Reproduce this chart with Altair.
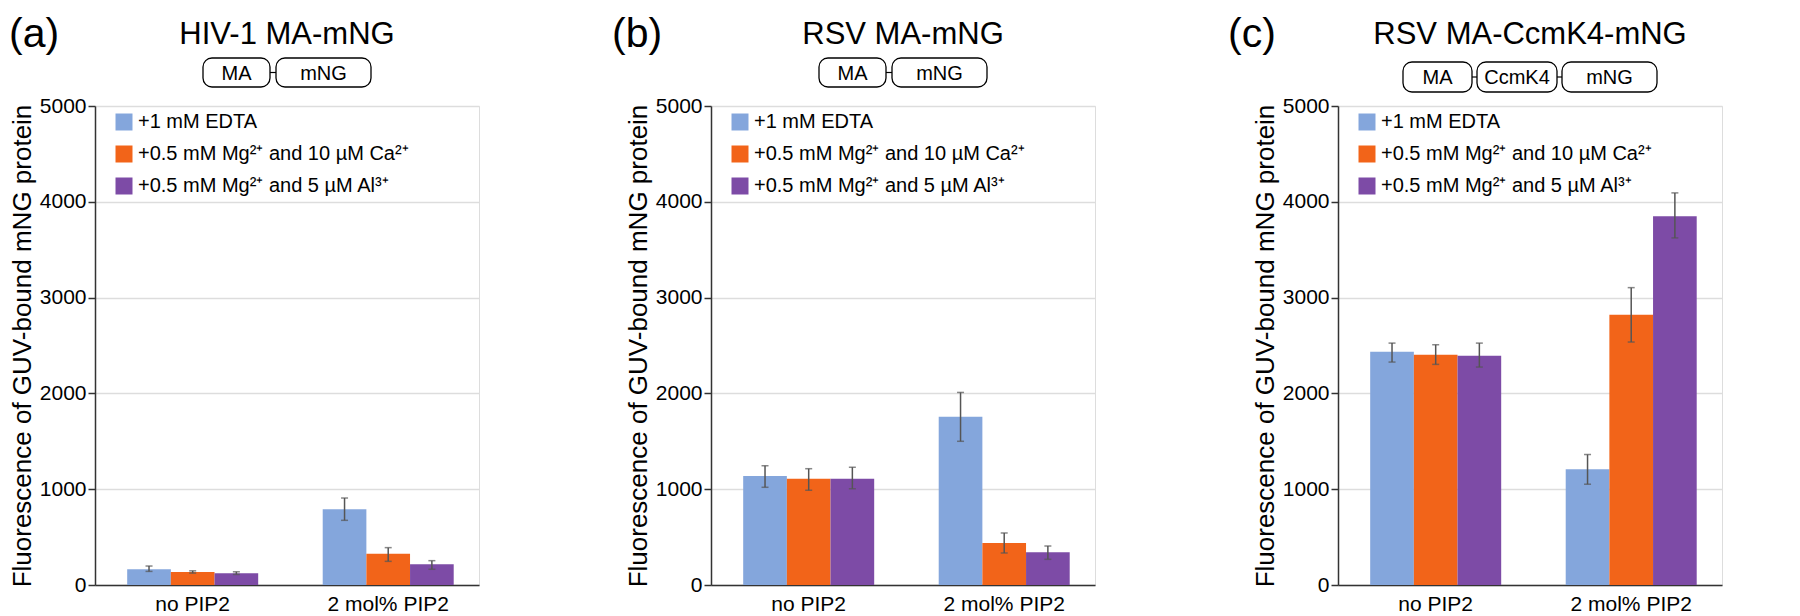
import altair as alt
import pandas as pd

FONT = "Liberation Sans"

categories = ["no PIP2", "2 mol% PIP2"]
conditions = ["+1 mM EDTA", "+0.5 mM Mg²⁺ and 10 µM Ca²⁺", "+0.5 mM Mg²⁺ and 5 µM Al³⁺"]
colors = ["#84a6dc", "#f26419", "#7d4ba6"]

titles = ["HIV-1 MA-mNG", "RSV MA-mNG", "RSV MA-CcmK4-mNG"]
panel_labels = ["(a)", "(b)", "(c)"]
y_title = "Fluorescence of GUV-bound mNG protein"
y_ticks = [0, 1000, 2000, 3000, 4000, 5000]

# values ordered: no PIP2 (EDTA, Ca, Al), 2 mol% PIP2 (EDTA, Ca, Al)
hiv_mean = [165, 136, 123, 790, 327, 216]
hiv_lo = [142, 124, 110, 675, 247, 164]
hiv_hi = [198, 148, 138, 908, 390, 254]

rsv_mean = [1138, 1110, 1110, 1757, 438, 341]
rsv_lo = [1020, 989, 1005, 1500, 334, 268]
rsv_hi = [1245, 1214, 1229, 2010, 543, 407]

ccm_mean = [2435, 2404, 2394, 1209, 2822, 3850]
ccm_lo = [2327, 2303, 2275, 1052, 2536, 3623]
ccm_hi = [2525, 2508, 2525, 1362, 3104, 4093]

# construct diagrams: domain names and box widths
diagram_names = [["MA", "mNG"], ["MA", "mNG"], ["MA", "CcmK4", "mNG"]]
diagram_widths = [[67, 95], [67, 95], [69, 80, 95]]
diagram_gaps = [6, 6, 5]
diagram_y = [(-48, -19), (-48, -19), (-44, -14)]
label_dx = [-86, -99, -110]

W, H = 384, 479


def panel(i, mean, lo, hi):
    df = pd.DataFrame({
        "cat": [c for c in categories for _ in conditions],
        "cond": conditions * 2,
        "val": mean,
        "lo": lo,
        "hi": hi,
    })
    x = alt.X("cat:N", sort=categories,
              scale=alt.Scale(paddingInner=0.33, paddingOuter=0.147, align=0.56),
              axis=alt.Axis(title=None, labelAngle=0, labelFontSize=21, labelFont=FONT,
                            labelColor="black", ticks=False, labelPadding=8,
                            domainColor="#333", domainWidth=1.5))
    xo = alt.XOffset("cond:N", sort=conditions,
                     scale=alt.Scale(paddingInner=0, paddingOuter=0))
    yaxis = alt.Axis(values=y_ticks, format="d", title=y_title, titleFontSize=26,
                     titleFont=FONT, titleFontWeight="normal", titleColor="black",
                     titlePadding=4,
                     labelFontSize=21, labelFont=FONT, labelColor="black", labelPadding=2,
                     tickSize=7, tickColor="#333", tickWidth=1.5,
                     domainColor="#333", domainWidth=1.5,
                     grid=True, gridColor="#dddddd", gridWidth=1.5)
    yscale = alt.Scale(domain=[0, 5000], nice=False)
    color = alt.Color("cond:N", sort=conditions,
                      scale=alt.Scale(domain=conditions, range=colors),
                      legend=alt.Legend(title=None, orient="none", legendX=19, legendY=6,
                                        symbolType="square", symbolSize=289,
                                        symbolStrokeWidth=0, symbolOpacity=1,
                                        labelFontSize=20, labelFont=FONT, labelColor="black",
                                        labelLimit=500,
                                        rowPadding=12, labelOffset=4, padding=0))
    bars = alt.Chart(df).mark_bar().encode(
        x=x, xOffset=xo, y=alt.Y("val:Q", scale=yscale, axis=yaxis), color=color)
    rules = alt.Chart(df).mark_rule(color="#555", strokeWidth=1.5).encode(
        x=x, xOffset=xo, y=alt.Y("lo:Q", scale=yscale, axis=yaxis), y2="hi:Q")
    cap_lo = alt.Chart(df).mark_tick(color="#555", thickness=1.5, size=7).encode(
        x=x, xOffset=xo, y=alt.Y("lo:Q", scale=yscale, axis=yaxis))
    cap_hi = alt.Chart(df).mark_tick(color="#555", thickness=1.5, size=7).encode(
        x=x, xOffset=xo, y=alt.Y("hi:Q", scale=yscale, axis=yaxis))
    main = alt.layer(bars, rules, cap_lo, cap_hi)

    # diagram of construct
    names = diagram_names[i]
    widths = diagram_widths[i]
    gap = diagram_gaps[i]
    total = sum(widths) + gap * (len(widths) - 1)
    start = W / 2 - total / 2
    x0s, x1s = [], []
    pos = start
    for w in widths:
        x0s.append(pos)
        x1s.append(pos + w)
        pos += w + gap
    bdf = pd.DataFrame({"name": names, "x0": x0s, "x1": x1s,
                        "xc": [(a + b) / 2 for a, b in zip(x0s, x1s)]})
    cdf = pd.DataFrame({"c0": x1s[:-1], "c1": x0s[1:]})
    dx = alt.Scale(domain=[0, W], nice=False, zero=False)
    yt, yb = diagram_y[i]
    boxes = alt.Chart(bdf).mark_rect(cornerRadius=9, fill="white", stroke="black",
                                     strokeWidth=1.3).encode(
        x=alt.X("x0:Q", scale=dx, axis=None), x2="x1:Q",
        y=alt.value(yt), y2=alt.value(yb))
    box_text = alt.Chart(bdf).mark_text(fontSize=20, font=FONT, color="black",
                                        baseline="middle", dy=1).encode(
        x=alt.X("xc:Q", scale=dx, axis=None), y=alt.value((yt + yb) / 2), text="name:N")
    conn = alt.Chart(cdf).mark_rule(color="black", strokeWidth=1.2).encode(
        x=alt.X("c0:Q", scale=dx, axis=None), x2="c1:Q", y=alt.value((yt + yb) / 2))
    title_t = alt.Chart(pd.DataFrame({"t": [titles[i]]})).mark_text(
        fontSize=31, font=FONT, color="black", align="center", baseline="alphabetic").encode(
        text="t:N", x=alt.value(W / 2), y=alt.value(-62))
    label_t = alt.Chart(pd.DataFrame({"t": [panel_labels[i]]})).mark_text(
        fontSize=41, font=FONT, color="black", align="left", baseline="top").encode(
        text="t:N", x=alt.value(label_dx[i]), y=alt.value(-91))
    deco = alt.layer(boxes, conn, box_text, title_t, label_t)

    return alt.layer(main, deco).resolve_scale(x="independent").properties(width=W, height=H)


chart = alt.hconcat(
    panel(0, hiv_mean, hiv_lo, hiv_hi),
    panel(1, rsv_mean, rsv_lo, rsv_hi),
    panel(2, ccm_mean, ccm_lo, ccm_hi),
    spacing=131,
).resolve_scale(
    color="independent"
).resolve_legend(
    color="independent"
).properties(
    padding={"left": 0, "top": 5, "right": 5, "bottom": 0}
).configure_view(
    stroke="#333", strokeWidth=1.5
).configure(background="white")

chart.save("out.html", embed_options={"renderer": "svg", "actions": False})
